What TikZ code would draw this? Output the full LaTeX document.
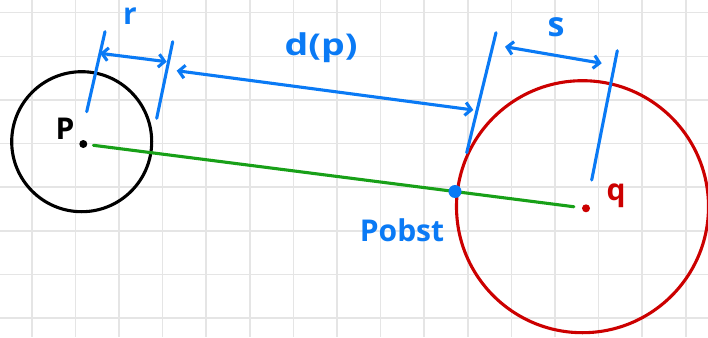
\documentclass[tikz,border=0pt]{standalone}
\usepackage{fontspec}
\setmainfont{Open Sans}
\usetikzlibrary{positioning,arrows.meta}
\definecolor{penblue}{RGB}{10,122,245}
\definecolor{penred}{RGB}{204,0,0}
\definecolor{pengreen}{RGB}{24,160,24}
\definecolor{gridgray}{RGB}{229,229,229}
\tikzset{
  gridline/.style={gridgray,line width=1.6pt},
  pen/.style={line width=3.1pt,line cap=round,line join=round},
  dimtick/.style={pen,penblue},
  dimarrow/.style={pen,penblue,
    {Straight Barb[length=6pt,width=13pt]}-{Straight Barb[length=6pt,width=13pt]}},
  dotmark/.style={circle,inner sep=0pt,minimum size=#1},
  handlbl/.style={inner sep=0pt,font=\fontsize{30}{32}\selectfont\bfseries},
}

\begin{document}
\begin{tikzpicture}[x=1pt,y=-1pt]
    \useasboundingbox[fill=white] (0,0) rectangle (708,337);
    \foreach \gx in {0,...,15}
      \draw[gridline] (31.7+43.6*\gx,0) -- (31.7+43.6*\gx,337);
    \foreach \gy in {0,...,7}
      \draw[gridline] (0,12.7+43.6*\gy) -- (708,12.7+43.6*\gy);

    % the two discs
    \node[pen,draw=black,circle,minimum size=140pt] (discp) at (81.7,141.7) {};
    \node[pen,draw=penred,circle,minimum size=252pt] (discq) at (582.5,206.7) {};

    \node[dotmark=8pt,fill=black] (p) at (83.3,144) {};
    \node[dotmark=8pt,fill=penred] (q) at (586,208.3) {};
    \draw[pen,pengreen,shorten <=6pt,shorten >=8pt] (p) -- (q);
    \node[dotmark=13pt,fill=penblue] (pobst) at (455,191.5) {};

    \node[handlbl] (plab) at (65,128.5) {P};
    \node[handlbl,text=penred] (qlab) at (616,196) {q};
    \node[handlbl,text=penblue] (pobstlab) at (402,230) {Pobst};

    % dimension marks
    \draw[dimtick] (105,31.7) -- (86.7,111.7);
    \draw[dimtick] (172.7,41.7) -- (156.7,118.3);
    \draw[dimtick] (496,32.7) -- (466.7,152.7);
    \draw[dimtick] (617.3,50.7) -- (591.7,180);

    \coordinate (rl) at (100,53.3);
    \coordinate (rr) at (166.7,61.7);
    \coordinate (dl) at (176.7,70.7);
    \coordinate (dr) at (473.3,110);
    \coordinate (sl) at (505,46.7);
    \coordinate (sr) at (601.7,63.3);
    \draw[dimarrow] (rl) -- (rr);
    \draw[dimarrow] (dl) -- (dr);
    \draw[dimarrow] (sl) -- (sr);

    \node[handlbl,text=penblue] (rlab) at (130,16.5) {r};
    \node[handlbl,text=penblue] (dlab) at (321,48) {\scalebox{1.25}[1]{d(p)}};
    \node[handlbl,text=penblue,font=\fontsize{34}{36}\selectfont\bfseries] (slab) at (556,27.5) {s};
\end{tikzpicture}
\end{document}
